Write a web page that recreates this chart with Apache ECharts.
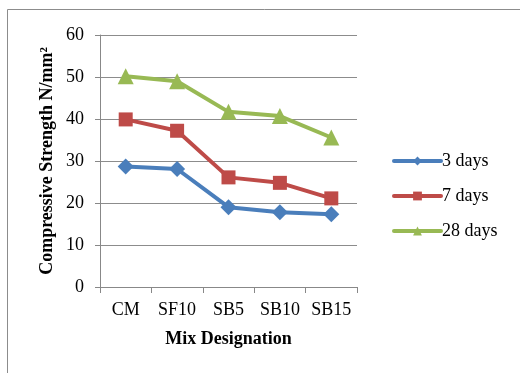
<!DOCTYPE html>
<html>
<head>
<meta charset="utf-8">
<script src="https://cdn.jsdelivr.net/npm/echarts@6/dist/echarts.min.js"></script>
<style>html,body{margin:0;padding:0;background:#fff}#c{width:520px;height:373px}</style>
</head>
<body>
<div id="c"></div>
<script>
const categories = ['CM', 'SF10', 'SB5', 'SB10', 'SB15'];
const days3 = [28.7, 28.1, 19.0, 17.8, 17.3];
const days7 = [39.9, 37.2, 26.1, 24.8, 21.1];
const days28 = [50.2, 49.0, 41.7, 40.7, 35.6];
const seriesNames = ['3 days', '7 days', '28 days'];

const font = 'Liberation Serif';
const chart = echarts.init(document.getElementById('c'));
chart.setOption({
  animation: false,
  backgroundColor: '#fff',
  graphic: [{
    type: 'rect', shape: {x: 7.5, y: 9.5, width: 530, height: 400},
    style: {fill: 'none', stroke: '#8c8c8c', lineWidth: 1}, silent: true
  }],
  grid: {left: 100, right: 163, top: 35, bottom: 86, containLabel: false},
  legend: {
    orient: 'vertical', left: 387, top: 147, itemWidth: 47, itemHeight: 11, itemGap: 17,
    lineStyle: {width: 4, cap: 'round'},
    textStyle: {fontFamily: font, fontSize: 18, color: '#000', padding: [0, 0, 0, -4]},
    data: seriesNames
  },
  xAxis: {
    type: 'category', data: categories, boundaryGap: true,
    axisLine: {lineStyle: {color: '#888', width: 1}},
    axisTick: {show: true, length: 6, lineStyle: {color: '#888'}, alignWithLabel: false},
    axisLabel: {fontFamily: font, fontSize: 18, color: '#000', margin: 14, interval: 0, hideOverlap: false},
    name: 'Mix Designation', nameLocation: 'middle', nameGap: 43,
    nameTextStyle: {fontFamily: font, fontSize: 18, fontWeight: 'bold', color: '#000'}
  },
  yAxis: {
    type: 'value', min: 0, max: 60, interval: 10,
    axisLine: {show: true, lineStyle: {color: '#888', width: 1}},
    axisTick: {show: true, length: 5, lineStyle: {color: '#888'}},
    splitLine: {lineStyle: {color: '#8c8c8c', width: 1}},
    axisLabel: {fontFamily: font, fontSize: 18, color: '#000', margin: 16},
    name: 'Compressive Strength N/mm²', nameLocation: 'middle', nameGap: 44,
    nameTextStyle: {fontFamily: font, fontSize: 18, fontWeight: 'bold', color: '#000'}
  },
  series: [
    {name: seriesNames[0], type: 'line', data: days3, symbol: 'diamond', symbolSize: 16,
     lineStyle: {width: 4, color: '#4a7ebb'}, itemStyle: {color: '#4a7ebb'}},
    {name: seriesNames[1], type: 'line', data: days7, symbol: 'rect', symbolSize: 14,
     lineStyle: {width: 4, color: '#be4b48'}, itemStyle: {color: '#be4b48'}},
    {name: seriesNames[2], type: 'line', data: days28, symbol: 'triangle', symbolSize: 16,
     lineStyle: {width: 4, color: '#98b954'}, itemStyle: {color: '#98b954'}}
  ]
});
</script>
</body>
</html>
